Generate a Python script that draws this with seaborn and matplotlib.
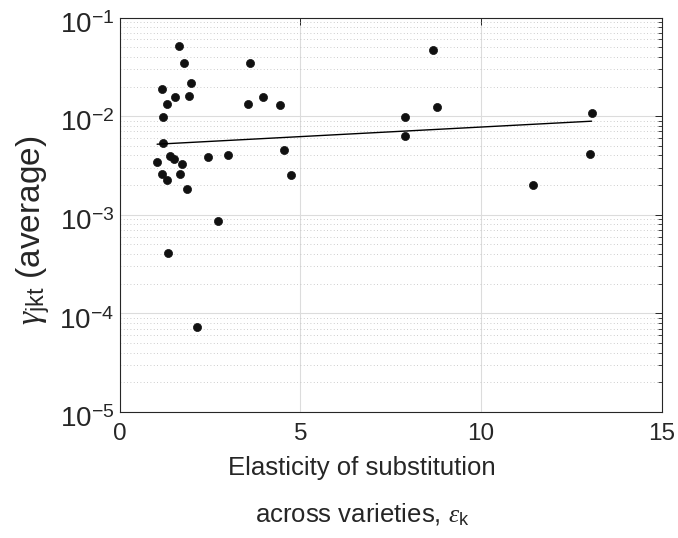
import numpy as np
import pandas as pd
import matplotlib
matplotlib.use('Agg')
import matplotlib.pyplot as plt
import matplotlib.ticker as mticker
import matplotlib.transforms as mtransforms
import seaborn as sns

# DATA --------------------------------------------------
elasticity = [1.64, 1.77, 3.60, 1.97, 1.18, 1.54, 1.93, 3.96, 1.31, 3.56,
              4.43, 1.20, 1.20, 4.56, 1.41, 1.51, 2.46, 2.99, 1.04, 1.74,
              1.17, 1.66, 4.73, 1.31, 1.88, 2.73, 1.34, 2.13, 8.67, 8.77,
              7.91, 7.91, 13.06, 13.02, 11.43]
gamma_avg = [0.0515, 0.0349, 0.0349, 0.0217, 0.0190, 0.0156, 0.0159, 0.0156, 0.0134, 0.0134,
             0.0131, 0.00989, 0.00535, 0.00451, 0.00395, 0.00370, 0.00385, 0.00404, 0.00340, 0.00325,
             0.00259, 0.00259, 0.00251, 0.00225, 0.00184, 0.00087, 0.000407, 0.0000733, 0.0473, 0.0124,
             0.00989, 0.00634, 0.0108, 0.00414, 0.00200]

# fitted line (endpoints)
fit_x = [1.04, 13.06]
fit_y = [0.0052, 0.0089]

xticks = [0, 5, 10, 15]
yticks = [1e-5, 1e-4, 1e-3, 1e-2, 1e-1]
ytick_labels = ['$10^{-5}$', '$10^{-4}$', '$10^{-3}$', '$10^{-2}$', '$10^{-1}$']

df = pd.DataFrame({'eps': elasticity, 'gamma': gamma_avg})
fit = pd.DataFrame({'eps': fit_x, 'gamma': fit_y})

# STYLE -------------------------------------------------
sns.set_style('white')
plt.rcParams['font.family'] = ['Liberation Sans', 'DejaVu Sans']
plt.rcParams['mathtext.fontset'] = 'custom'
plt.rcParams['mathtext.rm'] = 'Liberation Sans'
plt.rcParams['mathtext.it'] = 'Liberation Serif:italic'
plt.rcParams['mathtext.bf'] = 'Liberation Sans:bold'
axcol = '#262626'

fig = plt.figure(figsize=(6.78, 5.38), dpi=100)
ax = fig.add_axes([0.1763, 0.2342, 0.7997, 0.7331])

sns.scatterplot(data=df, x='eps', y='gamma', ax=ax, color='#111111', s=34,
                edgecolor='#111111', linewidth=0.5, zorder=3)
sns.lineplot(data=fit, x='eps', y='gamma', ax=ax, color='black', linewidth=1.0, zorder=4)

ax.set_yscale('log')
ax.set_xlim(0, 15)
ax.set_ylim(1e-5, 1e-1)
ax.set_xticks(xticks)
ax.set_yticks(yticks)
ax.set_yticklabels([l.replace('10^', '\\mathregular{10}^') for l in ytick_labels])
ax.yaxis.set_minor_locator(mticker.LogLocator(base=10, subs=np.arange(2, 10), numticks=10))
ax.yaxis.set_minor_formatter(mticker.NullFormatter())

# grid
ax.grid(True, which='major', axis='both', color='#dcdcdc', linewidth=0.8, linestyle='-')
ax.grid(True, which='minor', axis='y', color='#bdbdbd', linewidth=0.6, linestyle=(0, (1, 3)))
ax.set_axisbelow(True)

for s in ax.spines.values():
    s.set_color(axcol)
    s.set_linewidth(0.8)
ax.tick_params(which='both', direction='in', top=True, right=True, colors=axcol,
               labelcolor=axcol)
ax.tick_params(which='major', length=5, width=0.7)
ax.tick_params(which='minor', length=3, width=0.6)
ax.tick_params(axis='x', pad=8, labelsize=17.5)
ax.tick_params(axis='y', pad=4, labelsize=20)

# y tick labels sit a little below their ticks in the original
shift = mtransforms.ScaledTranslation(0, -0.05, fig.dpi_scale_trans)
for lab in ax.get_yticklabels():
    lab.set_transform(lab.get_transform() + shift)

ax.set_xlabel('Elasticity of substitution\nacross varieties, $\\epsilon_{\\mathrm{k}}$',
              fontsize=18.5, color=axcol, linespacing=2.05)
ax.set_ylabel('$\\gamma_{\\mathrm{jkt}}$ (average)', fontsize=24, color=axcol)
ax.xaxis.set_label_coords(0.447, -0.112)
ax.yaxis.set_label_coords(-0.1245, 0.462)

fig.savefig('out.png', dpi=100)
